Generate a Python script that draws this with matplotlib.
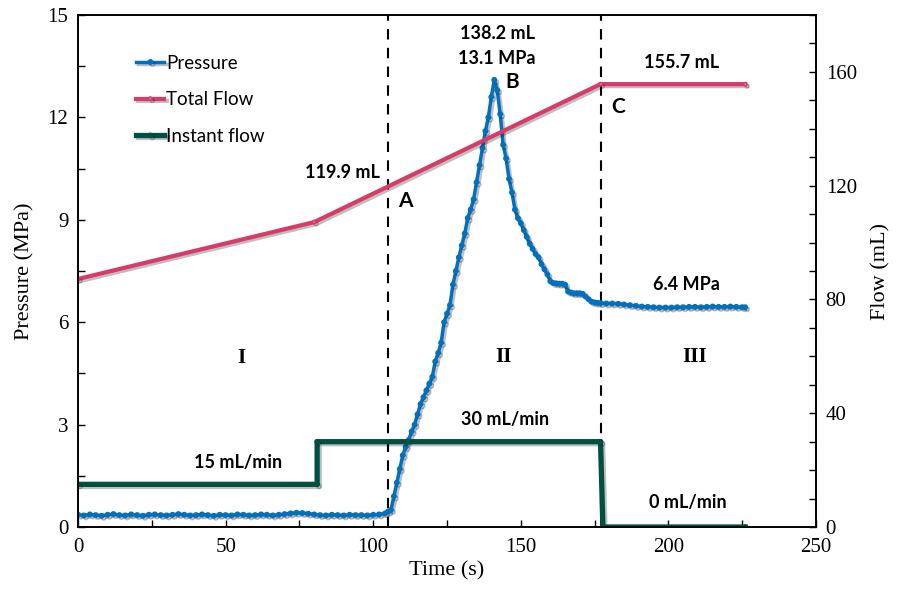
import matplotlib
matplotlib.use("Agg")
import matplotlib.pyplot as plt
import matplotlib.patheffects as pe

# pressure readings (MPa) against time (s)
p_time = [0, 2, 4, 6, 8, 10, 12, 14, 16, 18, 20, 22, 24, 26, 28, 30, 32, 34, 36, 38,
          40, 42, 44, 46, 48, 50, 52, 54, 56, 58, 60, 62, 64, 66, 68, 70, 72, 74, 76, 78,
          80, 82, 84, 86, 88, 90, 92, 94, 96, 98, 100, 102, 104,
          105, 106, 107, 108, 109, 110, 111, 112, 113, 114, 115, 116, 117, 118, 119, 120,
          121, 122, 123, 124, 125, 126, 127, 128, 129, 130, 131, 132, 133, 134, 135, 136,
          137, 138, 139, 140, 141, 142, 143, 144, 145, 146, 147, 148, 149, 150, 151, 152,
          153, 154, 155, 156, 157, 158, 159, 160, 161, 162, 163, 164, 165, 166, 167, 168,
          169, 170, 171, 172, 173, 174, 175, 176, 177,
          179, 181, 183, 185, 187, 189, 191, 193, 195, 197, 199, 201, 203, 205, 207, 209,
          211, 213, 215, 217, 219, 221, 223, 225, 226]
pressure = [0.36, 0.34, 0.37, 0.35, 0.33, 0.36, 0.38, 0.35, 0.34, 0.37, 0.35, 0.33, 0.36, 0.37, 0.35, 0.34, 0.36, 0.38, 0.36, 0.34,
            0.35, 0.37, 0.35, 0.33, 0.36, 0.35, 0.34, 0.37, 0.36, 0.34, 0.35, 0.37, 0.36, 0.34, 0.36, 0.38, 0.40, 0.42, 0.41, 0.39,
            0.37, 0.35, 0.34, 0.36, 0.35, 0.34, 0.36, 0.35, 0.35, 0.34, 0.36, 0.37, 0.40,
            0.45, 0.50, 0.90, 1.30, 1.70, 2.10, 2.35, 2.55, 2.80, 3.00, 3.30, 3.60, 3.80, 4.00, 4.20, 4.40,
            4.85, 5.10, 5.40, 6.00, 6.25, 6.50, 7.10, 7.50, 7.90, 8.25, 8.60, 9.05, 9.30, 9.60, 10.10, 10.60,
            11.10, 11.60, 12.00, 12.60, 13.10, 12.80, 12.10, 11.20, 10.80, 10.20, 9.80, 9.30, 9.05, 8.90, 8.70, 8.50,
            8.30, 8.15, 8.00, 7.90, 7.70, 7.55, 7.40, 7.20, 7.15, 7.14, 7.13, 7.13, 7.10, 6.90, 6.87, 6.85,
            6.85, 6.85, 6.83, 6.75, 6.67, 6.60, 6.58, 6.57, 6.56,
            6.55, 6.55, 6.54, 6.52, 6.50, 6.48, 6.46, 6.45, 6.44, 6.43, 6.43, 6.43, 6.44, 6.44, 6.45, 6.45,
            6.44, 6.45, 6.46, 6.45, 6.45, 6.46, 6.45, 6.44, 6.44]

# cumulative injected volume (mL)
total_time = [0, 80, 177, 226]
total_flow = [87.2, 107.2, 155.7, 155.7]

# pump rate (mL/min), drawn on the right axis
rate_time = [0, 81, 81, 177, 177.8, 226]
rate_flow = [15, 15, 30, 30, 0, 0]

stage_lines = [105, 177]

blue = "#0070C0"
pink = "#D93A66"
green = "#00503F"
serif = "Liberation Serif"
sans = "Lato"

fig = plt.figure(figsize=(8.98, 5.98), dpi=100)
ax1 = fig.add_axes([0.0869, 0.1187, 0.8218, 0.8562])
ax2 = ax1.twinx()

shadow = [pe.SimpleLineShadow(offset=(1.5, -1.5), alpha=0.25), pe.Normal()]

ax1.plot(p_time, pressure, color=blue, lw=2.5, marker="o", ms=3.2, label="Pressure",
         path_effects=shadow)
ax2.plot(total_time, total_flow, color=pink, lw=3, marker="o", ms=2.5, mfc="#F07090",
         mec=pink, label="Total Flow", path_effects=shadow)
ax2.plot(rate_time, rate_flow, color=green, lw=3.8, marker="o", ms=3, label="Instant flow",
         path_effects=shadow)

for t in stage_lines:
    ax1.axvline(t, color="black", lw=1.5, ls=(0, (5, 4)), zorder=1)

ax1.set_xlim(0, 250)
ax1.set_ylim(0, 15)
ax2.set_ylim(0, 180)
ax1.set_xticks([0, 50, 100, 150, 200, 250])
ax1.set_xticks(range(0, 251, 25), minor=True)
ax1.set_yticks([0, 3, 6, 9, 12, 15])
ax1.set_yticks([i * 1.5 for i in range(11)], minor=True)
ax2.set_yticks([0, 40, 80, 120, 160])
ax2.set_yticks(range(0, 181, 10), minor=True)

for ax in (ax1, ax2):
    ax.tick_params(which="both", direction="in", length=5, width=1, labelsize=15,
                   labelfontfamily=serif)
    for s in ax.spines.values():
        s.set_linewidth(1.2)
ax1.tick_params(axis="x", pad=8)
ax1.tick_params(axis="y", pad=7)
ax2.tick_params(axis="y", pad=7)

ax1.set_xlabel("Time (s)", fontsize=16, family=serif, labelpad=3)
ax1.set_ylabel("Pressure (MPa)", fontsize=16, family=serif, labelpad=9)
ax2.set_ylabel("Flow (mL)", fontsize=16, family=serif, labelpad=10)

bold = dict(fontsize=13, fontweight="bold", family=sans, ha="center", va="center")
big = dict(bold, fontsize=15)
ax1.text(89.5, 10.4, "119.9 mL", **bold)
ax1.text(111, 9.55, "A", **big, zorder=5)
ax1.text(142, 14.45, "138.2 mL", **bold)
ax1.text(142, 13.72, "13.1 MPa", **bold)
ax1.text(147, 13.05, "B", **big)
ax1.text(204.5, 13.62, "155.7 mL", **bold)
ax1.text(183, 12.3, "C", **big)
ax1.text(206, 7.1, "6.4 MPa", **bold)
ax1.text(54.2, 1.88, "15 mL/min", **bold)
ax1.text(144.6, 3.16, "30 mL/min", **bold)
ax1.text(206.6, 0.73, "0 mL/min", **bold)

roman = dict(fontsize=15, fontweight="bold", family=serif, ha="center", va="center")
ax1.text(55.2, 4.95, "I", **roman)
ax1.text(144, 4.98, "II", **roman)
ax1.text(209, 4.98, "III", **roman)

h1, l1 = ax1.get_legend_handles_labels()
h2, l2 = ax2.get_legend_handles_labels()
leg = ax2.legend(h1 + h2, l1 + l2, loc="upper left", bbox_to_anchor=(0.133, 0.937),
                 bbox_transform=fig.transFigure, frameon=False, handlelength=1.5,
                 handletextpad=0.1, labelspacing=1.05, prop=dict(family=sans, size=13.5))

fig.savefig("out.png", dpi=100)
